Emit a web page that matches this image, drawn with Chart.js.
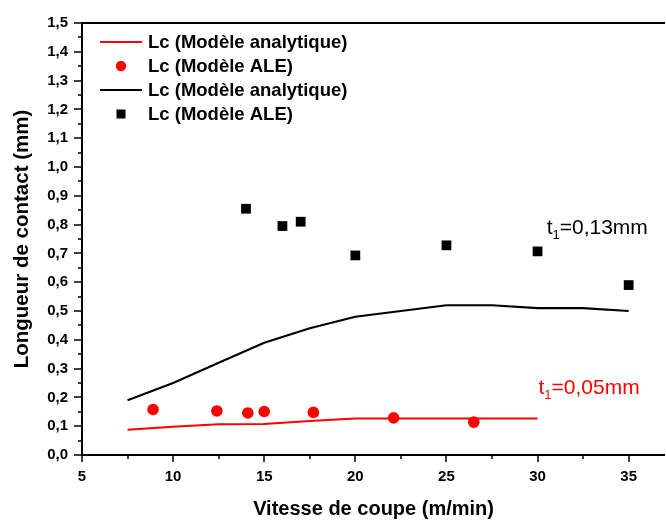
<!DOCTYPE html>
<html lang="fr">
<head>
<meta charset="UTF-8">
<title>Longueur de contact</title>
<script src="https://cdn.jsdelivr.net/npm/chart.js"></script>
<style>
  html, body { margin: 0; padding: 0; overflow: hidden; background: #fff; }
</style>
</head>
<body>
<canvas id="lcChart" width="672" height="521"></canvas>
<script>
// t1 = 0,05 mm
const vitesseAnalytique05 = [7.5, 10, 12.5, 15, 17.5, 20, 22.5, 25, 27.5, 30];
const lcAnalytique05 = [0.088, 0.098, 0.107, 0.108, 0.118, 0.127, 0.127, 0.127, 0.127, 0.127];
const vitesseALE05 = [8.9, 12.4, 14.1, 15.0, 17.7, 22.1, 26.5];
const lcALE05 = [0.158, 0.153, 0.146, 0.151, 0.148, 0.129, 0.114];
// t1 = 0,13 mm
const vitesseAnalytique13 = [7.5, 10, 12.5, 15, 17.5, 20, 22.5, 25, 27.5, 30, 32.5, 35];
const lcAnalytique13 = [0.19, 0.25, 0.32, 0.39, 0.44, 0.48, 0.50, 0.52, 0.52, 0.51, 0.51, 0.50];
const vitesseALE13 = [14, 16, 17, 20, 25, 30, 35];
const lcALE13 = [0.855, 0.795, 0.81, 0.693, 0.728, 0.707, 0.59];

const seriesLabels = ['Lc (Modèle analytique)', 'Lc (Modèle ALE)', 'Lc (Modèle analytique)', 'Lc (Modèle ALE)'];
const xTickValues = [5, 10, 15, 20, 25, 30, 35];
const yTickValues = [0, 0.1, 0.2, 0.3, 0.4, 0.5, 0.6, 0.7, 0.8, 0.9, 1.0, 1.1, 1.2, 1.3, 1.4, 1.5];
const noteLabels = ['0,13mm', '0,05mm'];

const FONT = '"Liberation Sans", Arial, sans-serif';
const pts = (xs, ys) => xs.map((x, i) => ({ x: x, y: ys[i] }));
const comma = v => v.toFixed(1).replace('.', ',');

// axes frame, minor ticks, legend and t1 notes
const decor = {
  id: 'decor',
  afterDraw(chart) {
    const ctx = chart.ctx;
    const a = chart.chartArea;
    const xs = chart.scales.x, ys = chart.scales.y;
    ctx.save();
    ctx.strokeStyle = '#000';
    ctx.lineWidth = 2;
    ctx.beginPath();
    ctx.moveTo(a.left, a.top); ctx.lineTo(a.left, a.bottom);
    ctx.moveTo(a.left - 1, a.bottom); ctx.lineTo(a.right, a.bottom);
    ctx.moveTo(a.left - 1, a.top); ctx.lineTo(a.right, a.top);
    ctx.stroke();

    ctx.lineWidth = 1.5;
    ctx.beginPath();
    for (let i = 0; i <= 30; i++) {
      const py = Math.round(ys.getPixelForValue(i * 0.05));
      const len = i % 2 === 0 ? 8 : 4;
      ctx.moveTo(a.left, py); ctx.lineTo(a.left - len, py);
    }
    for (let v = 5; v <= 37; v += 2.5) {
      const px = Math.round(xs.getPixelForValue(v));
      const len = v % 5 === 0 ? 7 : 4;
      ctx.moveTo(px, a.bottom); ctx.lineTo(px, a.bottom + len);
    }
    ctx.stroke();

    // legend
    const rows = [42, 66, 90, 114];
    ctx.font = 'bold 18.5px ' + FONT;
    ctx.textBaseline = 'middle';
    chart.data.datasets.forEach((ds, i) => {
      const y = rows[i];
      if (ds.showLine) {
        ctx.strokeStyle = ds.borderColor;
        ctx.lineWidth = 2;
        ctx.beginPath(); ctx.moveTo(100, y); ctx.lineTo(142, y); ctx.stroke();
      } else if (ds.pointStyle === 'rect') {
        ctx.fillStyle = ds.backgroundColor;
        ctx.fillRect(116.5, y - 4.5, 9, 9);
      } else {
        ctx.fillStyle = ds.backgroundColor;
        ctx.beginPath(); ctx.arc(121, y, 5.2, 0, Math.PI * 2); ctx.fill();
      }
      ctx.fillStyle = '#000';
      ctx.fillText(ds.label, 148, y + 1);
    });

    // t1 notes
    const notes = [
      { text: noteLabels[0], x: 30.5, y: 0.766, color: '#000' },
      { text: noteLabels[1], x: 30.05, y: 0.213, color: '#ff0000' }
    ];
    ctx.textBaseline = 'alphabetic';
    notes.forEach(n => {
      let px = xs.getPixelForValue(n.x);
      const py = ys.getPixelForValue(n.y);
      ctx.fillStyle = n.color;
      ctx.font = '21px ' + FONT;
      ctx.fillText('t', px, py);
      px += ctx.measureText('t').width;
      ctx.font = '13px ' + FONT;
      ctx.fillText('1', px, py + 5);
      px += ctx.measureText('1').width;
      ctx.font = '21px ' + FONT;
      ctx.fillText('=' + n.text, px, py);
    });
    ctx.restore();
  }
};

new Chart(document.getElementById('lcChart'), {
  type: 'scatter',
  data: {
    datasets: [
      { label: seriesLabels[0], data: pts(vitesseAnalytique05, lcAnalytique05), showLine: true,
        borderColor: '#ff0000', borderWidth: 2, pointRadius: 0, tension: 0 },
      { label: seriesLabels[1], data: pts(vitesseALE05, lcALE05), pointStyle: 'circle',
        backgroundColor: '#ff0000', borderColor: '#ff0000', borderWidth: 0, pointRadius: 5.8 },
      { label: seriesLabels[2], data: pts(vitesseAnalytique13, lcAnalytique13), showLine: true,
        borderColor: '#000000', borderWidth: 2.2, pointRadius: 0, tension: 0 },
      { label: seriesLabels[3], data: pts(vitesseALE13, lcALE13), pointStyle: 'rect',
        backgroundColor: '#000000', borderColor: '#000000', borderWidth: 0, pointRadius: 6.9 }
    ]
  },
  options: {
    responsive: false,
    animation: false,
    layout: { padding: { top: 18, right: 0, left: 0, bottom: 0 } },
    plugins: { legend: { display: false }, tooltip: { enabled: false } },
    scales: {
      x: {
        type: 'linear', min: 5, max: 37,
        afterBuildTicks: s => { s.ticks = xTickValues.map(v => ({ value: v })); },
        afterFit: s => { s.height = 66; },
        grid: { display: false, drawTicks: false },
        border: { display: false },
        ticks: { color: '#000', font: { family: FONT, size: 15, weight: 'bold' }, padding: 13,
                 maxRotation: 0, callback: v => String(v) },
        title: { display: true, text: 'Vitesse de coupe (m/min)', color: '#000',
                 font: { family: FONT, size: 20, weight: 'bold' }, padding: { top: 0, bottom: 0 } }
      },
      y: {
        min: 0, max: 1.5,
        afterBuildTicks: s => { s.ticks = yTickValues.map(v => ({ value: v })); },
        afterFit: s => { s.width = 82; },
        grid: { display: false, drawTicks: false },
        border: { display: false },
        ticks: { color: '#000', font: { family: FONT, size: 15, weight: 'bold' }, padding: 14,
                 callback: v => comma(v) },
        title: { display: true, text: 'Longueur de contact (mm)', color: '#000',
                 font: { family: FONT, size: 20.5, weight: 'bold' }, padding: { top: 10, bottom: 0 } }
      }
    }
  },
  plugins: [decor]
});
</script>
</body>
</html>
